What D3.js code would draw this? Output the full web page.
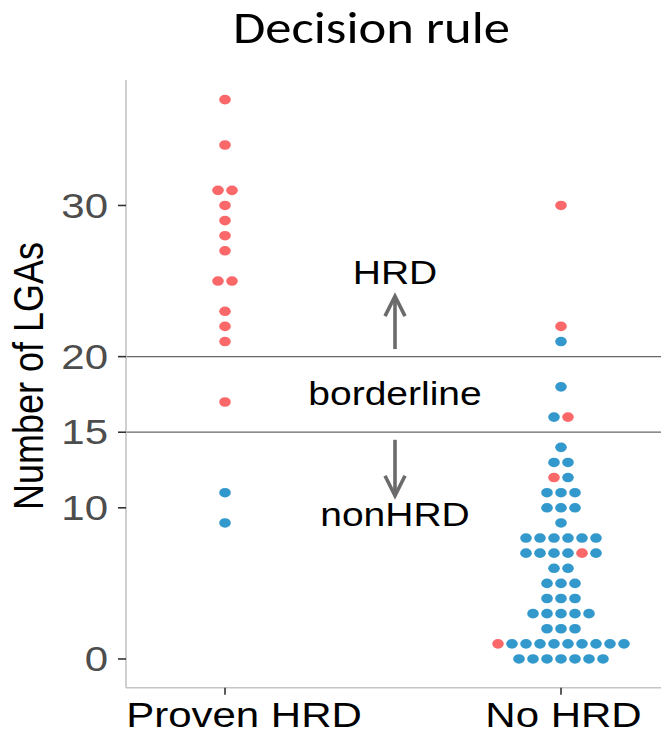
<!DOCTYPE html>
<html>
<head>
<meta charset="utf-8">
<script src="https://cdn.jsdelivr.net/npm/d3@7"></script>
<style>
  body { margin: 0; background: #fff; }
  svg { display: block; }
</style>
</head>
<body>
<svg id="chart" width="661" height="734"></svg>
<script>
// data
const categories = ["Proven HRD", "No HRD"];
const yTicks = [0, 10, 15, 20, 30];
const cutoffs = [15, 20];
// one entry per bin: [number of LGAs, dot classes left to right] (H = HRD call, N = nonHRD call)
const provenStacks = [
    [37, "H"], [34, "H"], [31, "HH"], [30, "H"], [29, "H"], [28, "H"], [27, "H"],
    [25, "HH"], [23, "H"], [22, "H"], [21, "H"], [17, "H"], [11, "N"], [9, "N"]
];
const noHrdStacks = [
    [30, "H"], [22, "H"], [21, "N"], [18, "N"], [16, "NH"], [14, "N"], [13, "NN"],
    [12, "HN"], [11, "NNN"], [10, "NNN"], [9, "N"], [8, "NNNNNN"], [7, "NNNNHN"],
    [6, "NN"], [5, "NNN"], [4, "NNN"], [3, "NNNNN"], [2, "NNN"], [1, "HNNNNNNNNN"],
    [0, "NNNNNNN"]
];
const zoneLabels = ["HRD", "borderline", "nonHRD"];
const zoneLabelY = [25.5, 17.5, 9.5];
const arrows = [[20.5, 24], [14.5, 10.8]];

const colors = { H: "#fa686a", N: "#3399cc" };
const SX = 1.2; // the picture is stretched sideways

const svg = d3.select("#chart");
const panelLeft = 126, panelRight = 661, panelTop = 80, panelBottom = 687.7;

const y = d3.scaleLinear().domain([-1.9, 38.3]).range([panelBottom, panelTop]);
const x = d3.scaleLinear().domain([1, 2]).range([225, 561]);

function stretchedText(g, tx, ty, str, extra) {
    return g.append("text")
        .attr("transform", `translate(${tx},${ty}) scale(${SX},1)` + (extra || ""))
        .text(str);
}

// title
svg.append("text")
    .attr("x", 371.5)
    .attr("y", 42.7)
    .attr("text-anchor", "middle")
    .attr("font-family", "Carlito, Lato, sans-serif")
    .attr("font-size", 46)
    .attr("textLength", 277)
    .attr("lengthAdjust", "spacingAndGlyphs")
    .attr("fill", "#000")
    .text("Decision rule");

// cutoff lines
svg.append("g").selectAll("line")
    .data(cutoffs)
    .enter().append("line")
    .attr("x1", panelLeft).attr("x2", panelRight)
    .attr("y1", d => y(d)).attr("y2", d => y(d))
    .attr("stroke", "#666")
    .attr("stroke-width", 1.3);

// axes lines
svg.append("line")
    .attr("x1", panelLeft).attr("x2", panelLeft).attr("y1", panelTop).attr("y2", panelBottom)
    .attr("stroke", "#c4c4c4").attr("stroke-width", 1.6);
svg.append("line")
    .attr("x1", panelLeft).attr("x2", panelRight).attr("y1", panelBottom).attr("y2", panelBottom)
    .attr("stroke", "#c4c4c4").attr("stroke-width", 1.6);

// y ticks
const yAxis = svg.append("g");
yTicks.forEach(t => {
    yAxis.append("line")
        .attr("x1", panelLeft - 8).attr("x2", panelLeft)
        .attr("y1", y(t)).attr("y2", y(t))
        .attr("stroke", "#333").attr("stroke-width", 1.6);
    stretchedText(yAxis, 108, y(t), t)
        .attr("text-anchor", "end")
        .attr("dominant-baseline", "central")
        .attr("font-family", "Liberation Sans, Arial, sans-serif")
        .attr("font-size", 35)
        .attr("fill", "#4d4d4d");
});

// x ticks (labels sit a little right of their ticks in the picture)
const labelShift = [19, 2.5];
const xAxis = svg.append("g");
categories.forEach((c, i) => {
    xAxis.append("line")
        .attr("x1", x(i + 1)).attr("x2", x(i + 1))
        .attr("y1", panelBottom).attr("y2", panelBottom + 7)
        .attr("stroke", "#333").attr("stroke-width", 1.6);
    stretchedText(xAxis, x(i + 1) + labelShift[i], 727, c)
        .attr("text-anchor", "middle")
        .attr("font-family", "Liberation Sans, Arial, sans-serif")
        .attr("font-size", 35)
        .attr("fill", "#000");
});

// y axis title
stretchedText(svg, 43, 376, "Number of LGAs", " rotate(-90)")
    .attr("text-anchor", "middle")
    .attr("font-family", "Liberation Sans, Arial, sans-serif")
    .attr("font-size", 36)
    .attr("fill", "#000");

// zone labels and arrows
const midX = x(1.5);
zoneLabels.forEach((lab, i) => {
    stretchedText(svg, midX + 2, y(zoneLabelY[i]), lab)
        .attr("text-anchor", "middle")
        .attr("dominant-baseline", "central")
        .attr("font-family", "Liberation Sans, Arial, sans-serif")
        .attr("font-size", 32.5)
        .attr("fill", "#000");
});

const arrowG = svg.append("g")
    .attr("stroke", "#6b6b6b")
    .attr("stroke-width", 3.6)
    .attr("fill", "none");
arrows.forEach(([from, to]) => {
    const y0 = y(from), y1 = y(to);
    const dir = y1 < y0 ? 1 : -1;
    arrowG.append("line")
        .attr("x1", midX + 2).attr("x2", midX + 2)
        .attr("y1", y0).attr("y2", y1);
    arrowG.append("path")
        .attr("d", `M${midX - 8},${y1 + dir * 20}L${midX + 2},${y1}L${midX + 12},${y1 + dir * 20}`);
});

// dots
const DOT_GAP = 14;
const dots = [];
[provenStacks, noHrdStacks].forEach((stacks, ci) => {
    stacks.forEach(([v, cls]) => {
        const n = cls.length;
        cls.split("").forEach((k, j) => {
            dots.push({ cat: ci + 1, value: v, offset: (j - (n - 1) / 2) * DOT_GAP, cls: k });
        });
    });
});

svg.append("g")
    .selectAll("ellipse")
    .data(dots)
    .enter().append("ellipse")
    .attr("cx", d => x(d.cat) + d.offset)
    .attr("cy", d => y(d.value))
    .attr("rx", 5.8)
    .attr("ry", 4.8)
    .attr("fill", d => colors[d.cls]);
</script>
</body>
</html>
